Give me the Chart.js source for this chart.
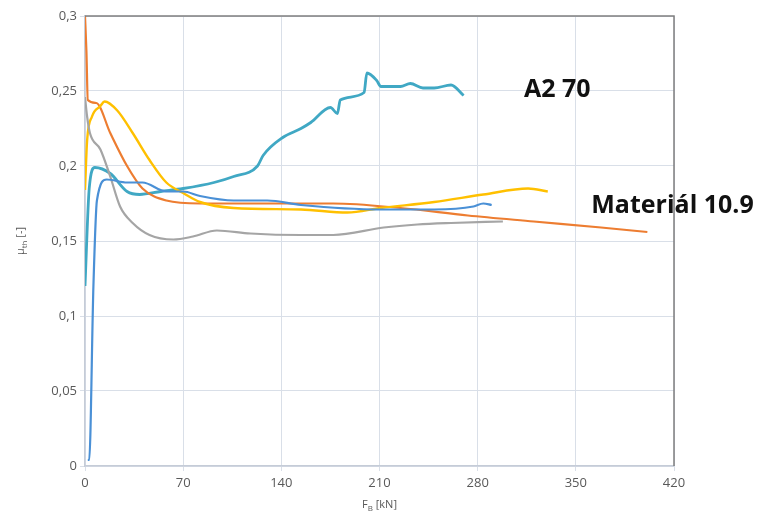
<!DOCTYPE html>
<html>
<head>
<meta charset="utf-8">
<script src="https://cdn.jsdelivr.net/npm/chart.js@4.4.1/dist/chart.umd.min.js"></script>
<style>
  html, body { margin: 0; padding: 0; background: #fff; }
  #wrap { width: 771px; height: 515px; }
</style>
</head>
<body>
<div id="wrap"><canvas id="c"></canvas></div>
<script>
// osa x: F_B [kN], osa y: mu_th [-]
const xTicks = [0, 70, 140, 210, 280, 350, 420];
const yTicks = [0, 0.05, 0.1, 0.15, 0.2, 0.25, 0.3];

// oranzova (Material 10.9)
const orangeX = [0, 1, 2, 8, 18, 30, 41, 58, 82, 120, 154, 177, 225, 273, 320, 368, 401];
const orangeY = [0.3, 0.277, 0.244, 0.242, 0.222, 0.2, 0.185, 0.177, 0.175, 0.175, 0.175, 0.175, 0.172, 0.167, 0.163, 0.159, 0.156];

// zluta
const yellowX = [0, 1.5, 5, 11, 14, 23, 34, 46, 58, 70, 82, 106, 154, 187, 211, 249, 284, 316, 330];
const yellowY = [0.184, 0.217, 0.233, 0.24, 0.243, 0.237, 0.222, 0.204, 0.189, 0.182, 0.176, 0.172, 0.171, 0.169, 0.172, 0.176, 0.181, 0.185, 0.183];

// seda
const grayX = [0, 1.5, 3.5, 11, 18, 25, 34, 46, 63, 77, 94, 118, 154, 177, 213, 237, 261, 298];
const grayY = [0.246, 0.233, 0.222, 0.211, 0.193, 0.173, 0.162, 0.154, 0.151, 0.153, 0.157, 0.155, 0.154, 0.154, 0.159, 0.161, 0.162, 0.163];

// modra
const blueX = [2, 3, 6, 8.5, 15.5, 30, 41, 58, 70, 82, 106, 130, 154, 211, 249, 277, 284, 290];
const blueY = [0.004, 0.004, 0.12, 0.177, 0.191, 0.189, 0.189, 0.183, 0.183, 0.18, 0.177, 0.177, 0.174, 0.171, 0.171, 0.173, 0.175, 0.174];

// tyrkysova (A2 70)
const tealX = [0, 3, 7, 18, 30, 39, 54, 70, 92, 106, 123, 127, 141, 154, 161, 175, 180, 182, 199, 201, 208, 211, 225, 232, 241, 249, 261, 270];
const tealY = [0.12, 0.185, 0.199, 0.195, 0.183, 0.181, 0.183, 0.185, 0.189, 0.193, 0.2, 0.207, 0.219, 0.225, 0.229, 0.239, 0.235, 0.244, 0.249, 0.262, 0.257, 0.253, 0.253, 0.255, 0.252, 0.252, 0.254, 0.247];

const toPoints = (xs, ys) => xs.map((x, i) => ({ x: x, y: ys[i] }));

const fmt = (v) => String(Math.round(v * 100) / 100).replace('.', ',');

// ramecek nahore a vpravo + popisky
const framePlugin = {
    id: 'frame',
    afterDraw(chart) {
        const { ctx, chartArea: a, scales } = chart;
        ctx.save();
        ctx.strokeStyle = '#7f7f7f';
        ctx.lineWidth = 1.5;
        ctx.beginPath();
        ctx.moveTo(a.left, a.top);
        ctx.lineTo(a.right, a.top);
        ctx.lineTo(a.right, a.bottom);
        ctx.stroke();

        // anotace
        ctx.fillStyle = '#111';
        ctx.font = 'bold 25px "Open Sans"';
        ctx.textBaseline = 'alphabetic';
        ctx.textAlign = 'left';
        ctx.fillText('A2 70', scales.x.getPixelForValue(313), scales.y.getPixelForValue(0.246));
        ctx.fillText('Materiál 10.9', scales.x.getPixelForValue(361), scales.y.getPixelForValue(0.169));

        // nazev osy x: F_B [kN]
        ctx.fillStyle = '#595959';
        ctx.font = '11px "Open Sans"';
        const cx = (a.left + a.right) / 2;
        const by = 508;
        const wF = ctx.measureText('F').width;
        ctx.font = '8px "Open Sans"';
        const wB = ctx.measureText('B').width;
        ctx.font = '11px "Open Sans"';
        const wR = ctx.measureText(' [kN]').width;
        let x0 = cx - (wF + wB + wR) / 2;
        ctx.fillText('F', x0, by);
        ctx.font = '8px "Open Sans"';
        ctx.fillText('B', x0 + wF, by + 3);
        ctx.font = '11px "Open Sans"';
        ctx.fillText(' [kN]', x0 + wF + wB, by);

        // nazev osy y: mu_th [-]
        ctx.translate(24, (a.top + a.bottom) / 2);
        ctx.rotate(-Math.PI / 2);
        ctx.font = '11px "Open Sans"';
        const wM = ctx.measureText('μ').width;
        ctx.font = '8px "Open Sans"';
        const wT = ctx.measureText('th').width;
        ctx.font = '11px "Open Sans"';
        const wD = ctx.measureText(' [-]').width;
        x0 = -(wM + wT + wD) / 2;
        ctx.fillText('μ', x0, 0);
        ctx.font = '8px "Open Sans"';
        ctx.fillText('th', x0 + wM, 3);
        ctx.font = '11px "Open Sans"';
        ctx.fillText(' [-]', x0 + wM + wT, 0);
        ctx.restore();
    }
};

const series = [
    { data: toPoints(blueX, blueY), color: '#4a90d6', width: 2.2 },
    { data: toPoints(grayX, grayY), color: '#a5a5a5', width: 2.2 },
    { data: toPoints(yellowX, yellowY), color: '#ffc000', width: 2.4 },
    { data: toPoints(orangeX, orangeY), color: '#ed7d31', width: 2.2 },
    { data: toPoints(tealX, tealY), color: '#40a8c4', width: 2.8 }
];

const gridColor = '#d9dfe8';

new Chart(document.getElementById('c'), {
    type: 'line',
    data: {
        datasets: series.map(s => ({
            data: s.data,
            borderColor: s.color,
            borderWidth: s.width,
            pointRadius: 0,
            cubicInterpolationMode: 'monotone',
            fill: false
        }))
    },
    options: {
        responsive: true,
        maintainAspectRatio: false,
        animation: false,
        layout: { padding: { top: 16, right: 97, left: 0, bottom: 0 } },
        plugins: {
            legend: { display: false },
            tooltip: { enabled: false }
        },
        scales: {
            x: {
                type: 'linear',
                min: 0,
                max: 420,
                afterBuildTicks: (scale) => { scale.ticks = xTicks.map(v => ({ value: v })); },
                afterFit: (scale) => { scale.height = 49; },
                ticks: {
                    color: '#595959',
                    font: { family: 'Open Sans', size: 13 },
                    padding: 4,
                    maxRotation: 0
                },
                grid: { color: gridColor, tickLength: 5, tickColor: gridColor },
                border: { color: '#c5ccd7', width: 1.5 }
            },
            y: {
                type: 'linear',
                min: 0,
                max: 0.3,
                afterBuildTicks: (scale) => { scale.ticks = yTicks.map(v => ({ value: v })); },
                afterFit: (scale) => { scale.width = 85; },
                ticks: {
                    color: '#595959',
                    font: { family: 'Open Sans', size: 13 },
                    padding: 3,
                    callback: (v) => fmt(v)
                },
                grid: { color: gridColor, tickLength: 5, tickColor: gridColor },
                border: { color: '#c5ccd7', width: 1.5 }
            }
        }
    },
    plugins: [framePlugin]
});
</script>
</body>
</html>
